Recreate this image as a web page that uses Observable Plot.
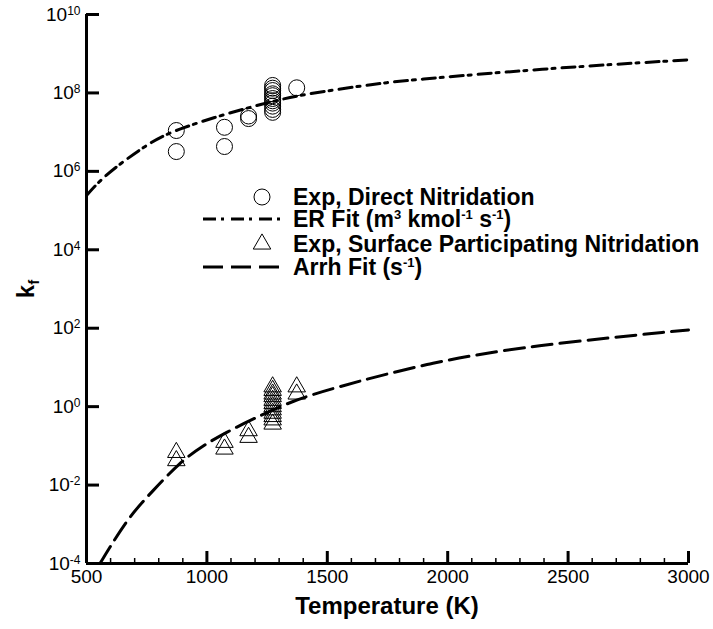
<!DOCTYPE html>
<html><head><meta charset="utf-8">
<script src="https://cdn.jsdelivr.net/npm/d3@7"></script>
<script src="https://cdn.jsdelivr.net/npm/@observablehq/plot@0.6"></script>
<style>
body{margin:0;background:#fff;}
#chart{width:713px;height:629px;}
</style></head><body><div id="chart"></div>
<script>
// Experimental data, direct nitridation (circles)
const directT = [873, 873, 1073, 1073, 1173, 1173, 1273, 1273, 1273, 1273, 1273, 1273, 1273, 1273, 1273, 1273, 1273, 1373];
const directK = [1.10e7, 3.2e6, 1.33e7, 4.3e6, 2.58e7, 2.22e7, 1.55e8, 1.32e8, 1.15e8, 9.5e7, 8.5e7, 7.2e7, 6.3e7, 5.5e7, 4.6e7, 3.8e7, 3.2e7, 1.35e8];
// Experimental data, surface participating nitridation (triangles)
const surfT = [873, 873, 1073, 1073, 1173, 1173, 1273, 1273, 1273, 1273, 1273, 1273, 1273, 1273, 1273, 1273, 1273, 1273, 1373, 1373];
const surfK = [0.068, 0.042, 0.123, 0.083, 0.244, 0.165, 3.2, 2.6, 2.1, 1.8, 1.45, 1.2, 1.0, 0.83, 0.68, 0.56, 0.46, 0.36, 3.2, 2.1];
// ER fit curve
const erT = [500, 555, 638, 776, 866, 1053, 1232, 1384, 1719, 1827, 2382, 3000];
const erK = [2.42e5, 5.8e5, 1.55e6, 6.1e6, 1.10e7, 2.65e7, 5.27e7, 9.0e7, 1.77e8, 2.07e8, 4.12e8, 6.98e8];
// Arrhenius fit curve
const arT = [556, 597, 680, 776, 887, 983, 1080, 1191, 1357, 1512, 1926, 2341, 3000];
const arK = [1.0e-4, 2.6e-4, 1.66e-3, 7.2e-3, 0.038, 0.101, 0.221, 0.485, 1.42, 2.83, 13.5, 36, 90.6];
// ticks
const xMajor = [500, 1000, 1500, 2000, 2500, 3000];
const xMinor = [600,700,800,900,1100,1200,1300,1400,1600,1700,1800,1900,2100,2200,2300,2400,2600,2700,2800,2900];
const yTicks = [1e-4, 1e-2, 1, 1e2, 1e4, 1e6, 1e8, 1e10];
const legendLabels = ["Exp, Direct Nitridation", "ER Fit", "Exp, Surface Participating Nitridation", "Arrh Fit"];

const direct = directT.map((t, i) => ({T: t, k: directK[i]}));
const surf = surfT.map((t, i) => ({T: t, k: surfK[i]}));
const er = erT.map((t, i) => ({T: t, k: erK[i]}));
const ar = arT.map((t, i) => ({T: t, k: arK[i]}));

const FONT = '"Liberation Sans", Arial, Helvetica, sans-serif';
const DASHDOT = "13,5,3,7";
const DASH = "20,8";
const W = 713, H = 629, ML = 86, MR = 25, MT = 14, MB = 66;
const innerW = W - ML - MR, innerH = H - MT - MB;

const plot = Plot.plot({
  width: W, height: H,
  marginLeft: ML, marginRight: MR, marginTop: MT, marginBottom: MB,
  style: {fontFamily: FONT, fontSize: "19px"},
  x: {domain: [500, 3000]},
  y: {type: "log", domain: [1e-4, 1e10]},
  marks: [
    Plot.line(er, {x: "T", y: "k", stroke: "black", strokeWidth: 3, strokeDasharray: DASHDOT, curve: "basis"}),
    Plot.line(ar, {x: "T", y: "k", stroke: "black", strokeWidth: 3, strokeDasharray: DASH, curve: "basis"}),
    Plot.dot(direct, {x: "T", y: "k", r: 8, stroke: "black", strokeWidth: 1, fill: "none"}),
    Plot.dot(surf, {x: "T", y: "k", symbol: "triangle", r: 6.5, stroke: "black", strokeWidth: 1, fill: "none"}),
    // inward ticks: frame-spanning ticks shortened with insets
    Plot.tickX(xMinor, {x: d => d, insetTop: innerH - 5, stroke: "black", strokeWidth: 1.5}),
    Plot.tickX(xMajor, {x: d => d, insetTop: innerH - 12, stroke: "black", strokeWidth: 3}),
    Plot.tickY(yTicks, {y: d => d, insetRight: innerW - 13, stroke: "black", strokeWidth: 3}),
    Plot.axisX(xMajor, {tickSize: 0, tickPadding: 6, label: null, tickFormat: d => String(d)}),
    Plot.axisY(yTicks, {tickSize: 0, tickPadding: 6, label: null, tickFormat: d => "10^" + Math.round(Math.log10(d))}),
    Plot.ruleX([500], {strokeWidth: 3}),
    Plot.ruleY([1e-4], {strokeWidth: 3})
  ]
});
document.getElementById("chart").appendChild(plot);

const svg = d3.select(plot);

// superscript tick labels
svg.selectAll('g[aria-label="y-axis tick label"] text').each(function() {
  const t = d3.select(this);
  const s = t.text();
  const m = s.match(/^10\^(-?\d+)$/);
  if (!m) return;
  t.text(null);
  t.append("tspan").text("10");
  t.append("tspan").attr("dy", "-0.5em").attr("font-size", "12px").text(m[1]);
});

// axis titles
svg.append("text").attr("x", 387).attr("y", 614).attr("text-anchor", "middle")
  .attr("font-family", FONT).attr("font-weight", "bold").attr("font-size", 24).attr("fill", "black")
  .text("Temperature (K)");
const yl = svg.append("text").attr("transform", "translate(34,289) rotate(-90)").attr("text-anchor", "middle")
  .attr("font-family", FONT).attr("font-weight", "bold").attr("font-size", 24).attr("fill", "black");
yl.append("tspan").text("k");
yl.append("tspan").attr("dy", 5).attr("font-size", 15).text("f");

// legend
const lg = svg.append("g").attr("font-family", FONT).attr("font-weight", "bold").attr("font-size", 23)
  .attr("fill", "black").attr("text-anchor", "start");
const rowY = [197, 219, 244, 267];
const symX = 262, lineX1 = 203, lineX2 = 283, textX = 293;
lg.append("circle").attr("cx", symX).attr("cy", rowY[0]).attr("r", 8).attr("fill", "none").attr("stroke", "black").attr("stroke-width", 1);
lg.append("line").attr("x1", lineX1).attr("x2", lineX2).attr("y1", rowY[1]).attr("y2", rowY[1])
  .attr("stroke", "black").attr("stroke-width", 3).attr("stroke-dasharray", DASHDOT);
lg.append("path").attr("transform", `translate(${symX},${rowY[2]})`).attr("d", d3.symbol(d3.symbolTriangle, 6.5 * 6.5 * Math.PI)())
  .attr("fill", "none").attr("stroke", "black").attr("stroke-width", 1);
lg.append("line").attr("x1", lineX1).attr("x2", lineX2).attr("y1", rowY[3]).attr("y2", rowY[3])
  .attr("stroke", "black").attr("stroke-width", 3).attr("stroke-dasharray", DASH);

function legendText(y, parts) {
  const t = lg.append("text").attr("x", textX).attr("y", y + 8);
  let raised = false;
  for (const [str, sup] of parts) {
    const sp = t.append("tspan").text(str);
    if (sup && !raised) { sp.attr("dy", -8).attr("font-size", 13); raised = true; }
    else if (sup) { sp.attr("font-size", 13); }
    else if (raised) { sp.attr("dy", 8); raised = false; }
  }
}
legendText(rowY[0], [[legendLabels[0]]]);
legendText(rowY[1], [[legendLabels[1] + " (m"], ["3", true], [" kmol"], ["-1", true], [" s"], ["-1", true], [")"]]);
legendText(rowY[2], [[legendLabels[2]]]);
legendText(rowY[3], [[legendLabels[3] + " (s"], ["-1", true], [")"]]);
</script>
</body></html>
